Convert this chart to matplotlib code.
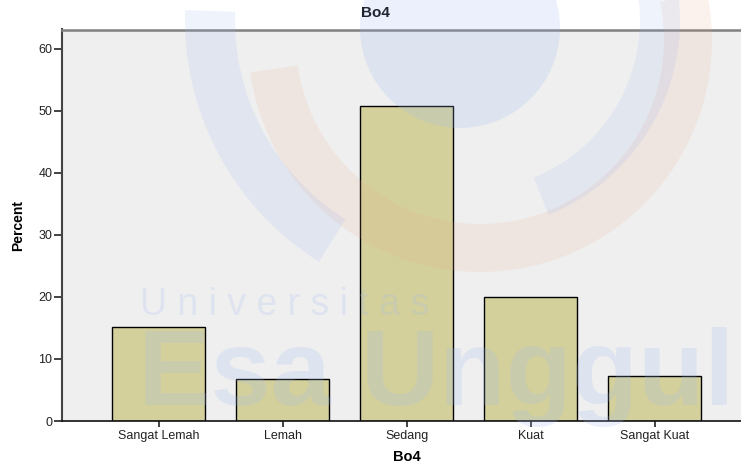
import matplotlib
matplotlib.use("Agg")
import matplotlib.pyplot as plt
from matplotlib.patches import Wedge, Circle
from matplotlib.transforms import IdentityTransform

categories = ["Sangat Lemah", "Lemah", "Sedang", "Kuat", "Sangat Kuat"]
percent = [15.1, 6.7, 50.8, 20.0, 7.2]
yticks = [0, 10, 20, 30, 40, 50, 60]
title = "Bo4"
xlabel = "Bo4"
ylabel = "Percent"

plt.rcParams["font.family"] = ["Liberation Sans", "DejaVu Sans"]

W, H = 741, 468
fig = plt.figure(figsize=(W / 100, H / 100), dpi=100)
fig.patch.set_facecolor("white")

def fx(px):
    return px / W

def fy(py):
    return 1 - py / H

ax = fig.add_axes([fx(62), fy(421), 1 - fx(62), (421 - 29.5) / H])
ax.set_facecolor("#efefef")
x = list(range(len(categories)))
ax.bar(x, percent, width=0.75, color="#d4d09c", edgecolor="black", linewidth=1.0, zorder=2)
ax.set_xlim(-0.782, 4.694)
ax.set_ylim(0, 63.1)
ax.set_yticks(yticks)
ax.set_xticks(x)
ax.set_xticklabels(categories)
ax.tick_params(axis="y", length=6, width=1.2, pad=1, labelsize=9, colors="#222222")
ax.tick_params(axis="x", length=4.5, width=1.2, pad=2, labelsize=9, colors="#222222")
ax.spines["top"].set_color("#808080")
ax.spines["top"].set_linewidth(1.8)
ax.spines["right"].set_visible(False)
ax.spines["left"].set_color("#444444")
ax.spines["left"].set_linewidth(1.5)
ax.spines["bottom"].set_color("#111111")
ax.spines["bottom"].set_linewidth(1.2)

fig.text(fx(375), fy(13), title, ha="center", va="center", fontsize=11, fontweight="bold")
fig.text(fx(407), fy(457), xlabel, ha="center", va="center", fontsize=10.5, fontweight="bold")
fig.text(fx(18), fy(225), ylabel, ha="center", va="center", rotation=90, fontsize=10, fontweight="bold")

# faint watermark (logo shapes and university name)
idt = IdentityTransform()
blue = "#9cb8f0"
orange = "#e8a888"
wm = [
    Circle((460, H - 28), 100, transform=idt, facecolor=blue, alpha=0.2, edgecolor="none", zorder=10),
    Wedge((480, H - 40), 232, 188, 372, width=48, transform=idt, facecolor=orange, alpha=0.14, edgecolor="none", zorder=10),
    Wedge((470, H - 20), 285, 178, 238, width=50, transform=idt, facecolor=blue, alpha=0.17, edgecolor="none", zorder=10),
    Wedge((470, H - 20), 210, 292, 372, width=40, transform=idt, facecolor=blue, alpha=0.16, edgecolor="none", zorder=10),
]
for p in wm:
    fig.patches.append(p)
    p.set_figure(fig)

fig.text(fx(140), fy(315), "U n i v e r s i t a s", ha="left", va="baseline", fontsize=27,
         color=blue, alpha=0.2, zorder=11)
fig.text(fx(138), fy(405), "Esa Unggul", ha="left", va="baseline", fontsize=78, fontweight="bold",
         color=blue, alpha=0.2, zorder=11)

fig.savefig("out.png", dpi=100)
